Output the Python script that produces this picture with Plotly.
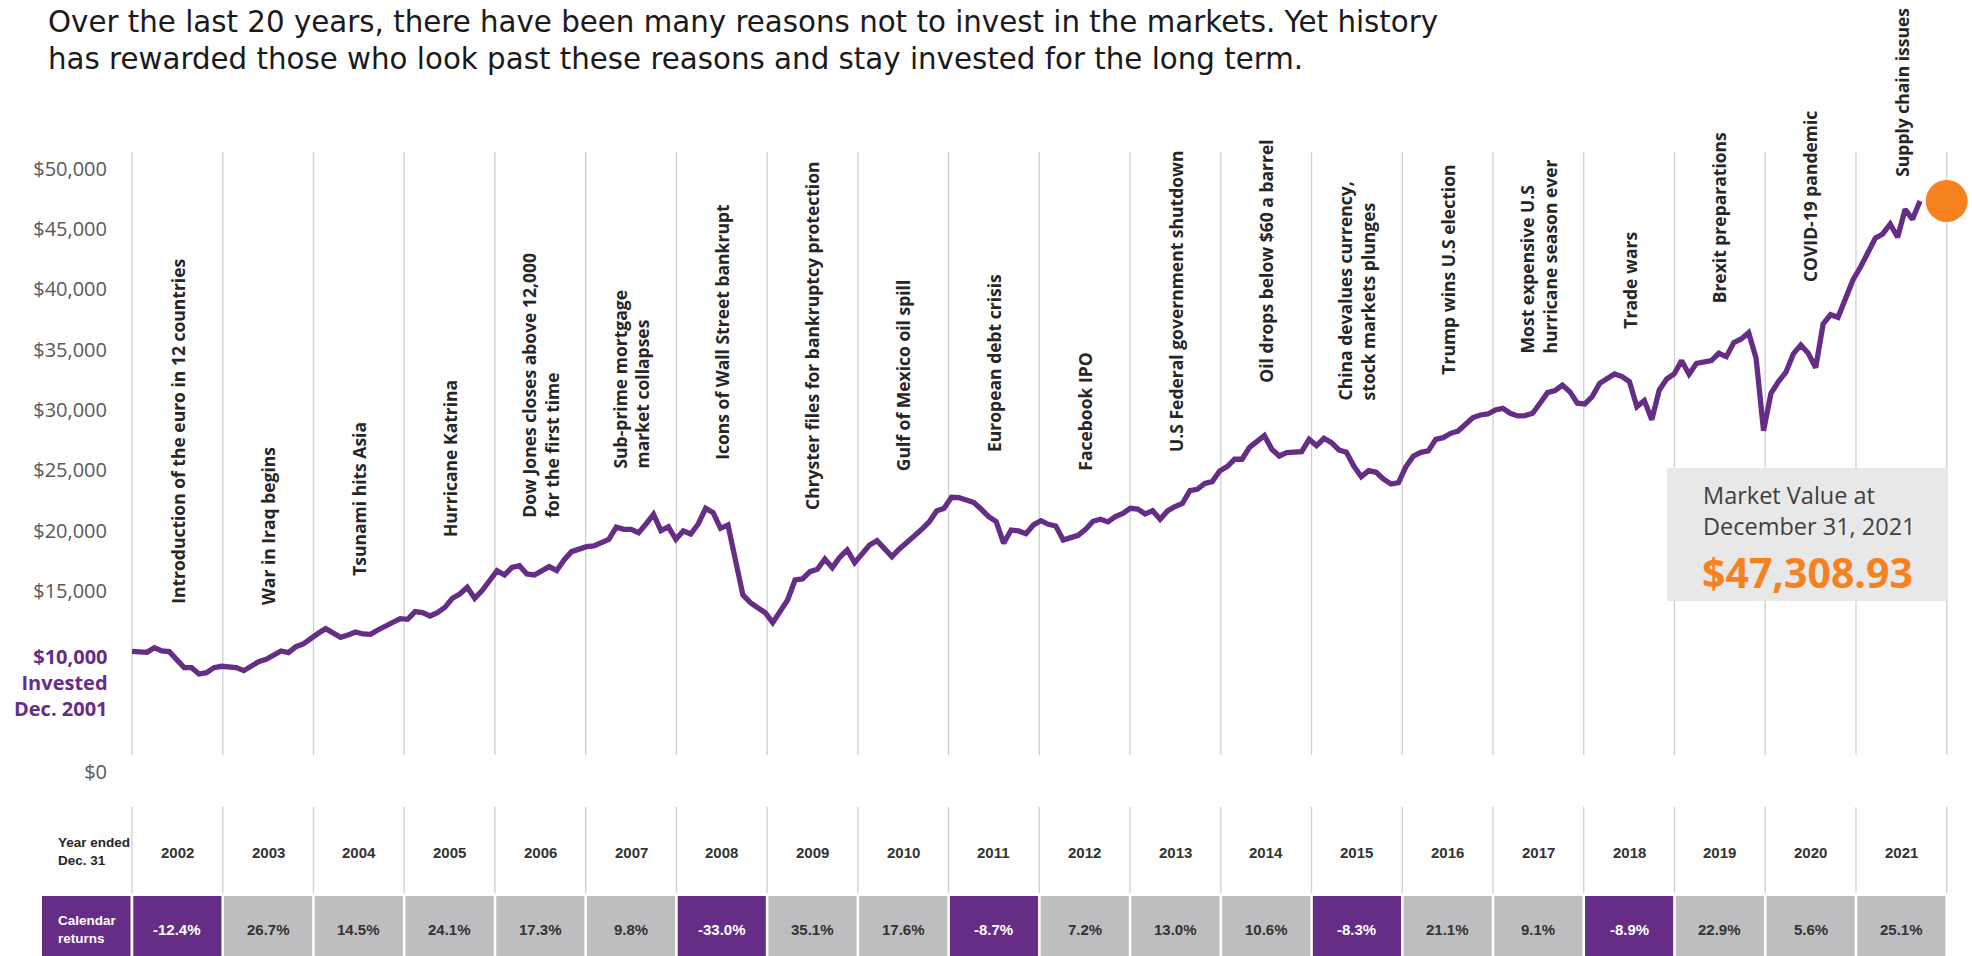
import plotly.graph_objects as go

# ---------------- data ----------------
title_lines = [
    "Over the last 20 years, there have been many reasons not to invest in the markets. Yet history",
    "has rewarded those who look past these reasons and stay invested for the long term.",
]
years = list(range(2002, 2022))
calendar_returns = [-12.4, 26.7, 14.5, 24.1, 17.3, 9.8, -33.0, 35.1, 17.6, -8.7,
                    7.2, 13.0, 10.6, -8.3, 21.1, 9.1, -8.9, 22.9, 5.6, 25.1]
events = [
    "Introduction of the euro in 12 countries",
    "War in Iraq begins",
    "Tsunami hits Asia",
    "Hurricane Katrina",
    "Dow Jones closes above 12,000<br>for the first time",
    "Sub-prime mortgage<br>market collapses",
    "Icons of Wall Street bankrupt",
    "Chryster files for bankruptcy protection",
    "Gulf of Mexico oil spill",
    "European debt crisis",
    "Facebook IPO",
    "U.S Federal government shutdown",
    "Oil drops below $60 a barrel",
    "China devalues currency,<br>stock markets plunges",
    "Trump wins U.S election",
    "Most expensive U.S<br>hurricane season ever",
    "Trade wars",
    "Brexit preparations",
    "COVID-19 pandemic",
    "Supply chain issues",
]
# month-end market value, Dec 2001 .. Dec 2021
month_end_values = [
    10000,
    9916, 9916, 10300, 10026, 9971, 9280, 8645, 8645, 8120, 8230, 8645, 8760,          # 2002
    8673, 8645, 8396, 8783, 9142, 9336, 9640, 10026, 9888, 10385, 10606, 11099,        # 2003
    11490, 11877, 11545, 11158, 11352, 11600, 11435, 11407, 11766, 12098, 12319, 12708,  # 2004
    12650, 13285, 13202, 12926, 13202, 13644, 14390, 14750, 15300, 14390, 15025, 15771,  # 2005
    16682, 16323, 16958, 17097, 16406, 16323, 16682, 17014, 16682, 17566, 18257, 18499,  # 2006
    18671, 18726, 18947, 19279, 20290, 20100, 20107, 19830, 20550, 21350, 19997, 20312,  # 2007
    19280, 19970, 19720, 20550, 21850, 21490, 20190, 20470, 17570, 14670, 14030, 13609,  # 2008
    13200, 12370, 13285, 14250, 15910, 15990, 16600, 16790, 17650, 16930, 17790, 18386,  # 2009
    17345, 18060, 18810, 19170, 18530, 17840, 18480, 18950, 19555, 20110, 20715, 21622,  # 2010
    21850, 22760, 22730, 22540, 22320, 21765, 21160, 20740, 18950, 20050, 19970, 19741,  # 2011
    20470, 20825, 20520, 20380, 19225, 19420, 19610, 20110, 20770, 20935, 20720, 21162,  # 2012
    21430, 21850, 21790, 21380, 21650, 20940, 21630, 21990, 22260, 23310, 23420, 23913,  # 2013
    24060, 24940, 25300, 25910, 25910, 26900, 27370, 27870, 26740, 26180, 26460, 26448,  # 2014
    26540, 27560, 27040, 27650, 27290, 26680, 26490, 25350, 24470, 24970, 24830, 24253,  # 2015
    23860, 23970, 25300, 26180, 26490, 26600, 27560, 27700, 28060, 28250, 28840, 29370,  # 2016
    29580, 29660, 30000, 30130, 29720, 29500, 29530, 29720, 30550, 31430, 31600, 32043,  # 2017
    31510, 30550, 30490, 31100, 32200, 32650, 32980, 32760, 32340, 30270, 30770, 29191,  # 2018
    31650, 32560, 32980, 34080, 32950, 33860, 33970, 34080, 34690, 34410, 35570, 35876,  # 2019
    36400, 34280, 28280, 31380, 32340, 33120, 34640, 35380, 34690, 33500, 37120, 37885,  # 2020
    37670, 39250, 40770, 41820, 43110, 44220, 44580, 45400, 44300, 46620, 45790, 47309,  # 2021
]
final_value = 47308.93
y_tick_values = [0, 15000, 20000, 25000, 30000, 35000, 40000, 45000, 50000]
y_tick_labels = ["$0", "$15,000", "$20,000", "$25,000", "$30,000", "$35,000",
                 "$40,000", "$45,000", "$50,000"]
start_label_lines = ["$10,000", "Invested", "Dec. 2001"]
box_lines = ["Market Value at", "December 31, 2021"]
box_value_text = "$47,308.93"
row_labels = ["Year ended<br>Dec. 31", "Calendar<br>returns"]

# ---------------- geometry (pixels) ----------------
W, H = 1972, 956
PLOT_LEFT = 132.0
YEAR_W = 90.735
LINE_END = 1920.0
ZERO_Y = 772.0
PX_PER_DOLLAR = 603.5 / 50000.0
event_bottom_px = [606, 607, 578, 539, 520, 471, 462, 512, 473, 454,
                   473, 454, 385, 402, 377, 355, 331, 305, 284, 179]

PURPLE = "#662D86"
GRAY_CELL = "#BEBEC0"
ORANGE = "#F5821F"
GRID = "#CFCFCF"
DARK = "#262626"
SANS = "Open Sans, Noto Sans, sans-serif"
WIDE = "DejaVu Sans, Open Sans, sans-serif"
TABLE = "Liberation Sans, Arial, sans-serif"

n_steps = len(month_end_values) - 1
step_px = (LINE_END - PLOT_LEFT) / n_steps
first_boundary = years[0] - 0.5
last_boundary = years[-1] + 0.5

x_range = [first_boundary - PLOT_LEFT / YEAR_W, first_boundary + (W - PLOT_LEFT) / YEAR_W]
x2_range = [-PLOT_LEFT / step_px, (W - PLOT_LEFT) / step_px]
y_range = [-(H - ZERO_Y) / PX_PER_DOLLAR, ZERO_Y / PX_PER_DOLLAR]


def px_x(p):
    return p / W


def px_y(p):
    return 1 - p / H


fig = go.Figure()

fig.add_trace(go.Scatter(
    x=list(range(len(month_end_values))), y=month_end_values,
    xaxis="x2", yaxis="y", mode="lines",
    line=dict(color=PURPLE, width=5.3), hoverinfo="skip",
))
fig.add_trace(go.Scatter(
    x=[last_boundary], y=[final_value], xaxis="x", yaxis="y", mode="markers",
    marker=dict(color=ORANGE, size=42, line=dict(width=0)),
    cliponaxis=False, hoverinfo="skip",
))

shapes = []
boundaries = [y - 0.5 for y in years] + [last_boundary]
for b in boundaries:
    shapes.append(dict(type="line", xref="x", yref="paper", x0=b, x1=b,
                       y0=px_y(755), y1=px_y(152), line=dict(color=GRID, width=1.3),
                       layer="below"))
    shapes.append(dict(type="line", xref="x", yref="paper", x0=b, x1=b,
                       y0=px_y(893), y1=px_y(807), line=dict(color=GRID, width=1.3),
                       layer="below"))
gap = 1.3 / YEAR_W
for yr, r in zip(years, calendar_returns):
    shapes.append(dict(type="rect", xref="x", yref="paper",
                       x0=yr - 0.5 + gap, x1=yr + 0.5 - gap,
                       y0=px_y(956), y1=px_y(896), line=dict(width=0),
                       fillcolor=PURPLE if r < 0 else GRAY_CELL, layer="below"))
shapes.append(dict(type="rect", xref="paper", yref="paper",
                   x0=px_x(42), x1=px_x(130.5), y0=px_y(956), y1=px_y(896),
                   line=dict(width=0), fillcolor=PURPLE, layer="below"))
# market value box
shapes.append(dict(type="rect", xref="paper", yref="paper",
                   x0=px_x(1667), x1=px_x(1948), y0=px_y(601), y1=px_y(468),
                   line=dict(width=0), fillcolor="#E8E8E8", layer="above"))

ann = []
# title
for line, cy in zip(title_lines, [22, 59]):
    ann.append(dict(x=px_x(46), y=px_y(cy), xref="paper", yref="paper", text=line,
                    xanchor="left", yanchor="middle", showarrow=False,
                    font=dict(family=WIDE, size=29.3, color="#1A1A1A")))
# events
for yr, txt, bottom in zip(years, events, event_bottom_px):
    ann.append(dict(x=yr, y=px_y(bottom), xref="x", yref="paper", text="<b>" + txt + "</b>",
                    textangle=-90, xanchor="center", yanchor="bottom", align="left",
                    showarrow=False, font=dict(family=SANS, size=17.5, color=DARK)))
# start label
ann.append(dict(x=px_x(110), y=px_y(682), xref="paper", yref="paper",
                text="<b>" + "<br>".join(start_label_lines) + "</b>",
                xanchor="right", yanchor="middle", align="right",
                showarrow=False, font=dict(family=SANS, size=20, color=PURPLE)))
# table
ann.append(dict(x=px_x(56), y=px_y(851), xref="paper", yref="paper",
                text="<b>" + row_labels[0] + "</b>", xanchor="left", yanchor="middle",
                align="left", showarrow=False, font=dict(family=TABLE, size=13.5, color=DARK)))
ann.append(dict(x=px_x(56), y=px_y(929), xref="paper", yref="paper",
                text="<b>" + row_labels[1] + "</b>", xanchor="left", yanchor="middle",
                align="left", showarrow=False, font=dict(family=TABLE, size=13.5, color="white")))
for yr, r in zip(years, calendar_returns):
    ann.append(dict(x=yr, y=px_y(852), xref="x", yref="paper", text="<b>%d</b>" % yr,
                    xanchor="center", yanchor="middle", showarrow=False,
                    font=dict(family=TABLE, size=15, color="#333333")))
    ann.append(dict(x=yr, y=px_y(929), xref="x", yref="paper", text="<b>%.1f%%</b>" % r,
                    xanchor="center", yanchor="middle", showarrow=False,
                    font=dict(family=TABLE, size=15, color="white" if r < 0 else "#333333")))
# market value box text
ann.append(dict(x=px_x(1701), y=px_y(510), xref="paper", yref="paper",
                text="<br>".join(box_lines), xanchor="left", yanchor="middle", align="left",
                showarrow=False, font=dict(family=SANS, size=23.5, color="#404040")))
ann.append(dict(x=px_x(1700), y=px_y(572), xref="paper", yref="paper",
                text="<b>" + box_value_text + "</b>", xanchor="left", yanchor="middle",
                showarrow=False, font=dict(family=SANS, size=41, color=ORANGE)))

fig.update_layout(
    width=W, height=H, autosize=False,
    margin=dict(l=0, r=0, t=0, b=0, pad=0),
    paper_bgcolor="white", plot_bgcolor="white",
    showlegend=False,
    xaxis=dict(domain=[0, 1], range=x_range, visible=False, fixedrange=True),
    xaxis2=dict(overlaying="x", range=x2_range, visible=False, fixedrange=True),
    yaxis=dict(domain=[0, 1], range=y_range, anchor="free", position=PLOT_LEFT / W,
               tickvals=y_tick_values, ticktext=y_tick_labels,
               showgrid=False, zeroline=False, showline=False,
               ticks="outside", ticklen=21, tickcolor="rgba(0,0,0,0)",
               tickfont=dict(family=SANS, size=20, color="#595959"), fixedrange=True),
    shapes=shapes, annotations=ann,
)

fig.write_html("out.html", config={"displayModeBar": False},
               post_script="document.body.style.margin='0';document.body.style.overflow='hidden';")
